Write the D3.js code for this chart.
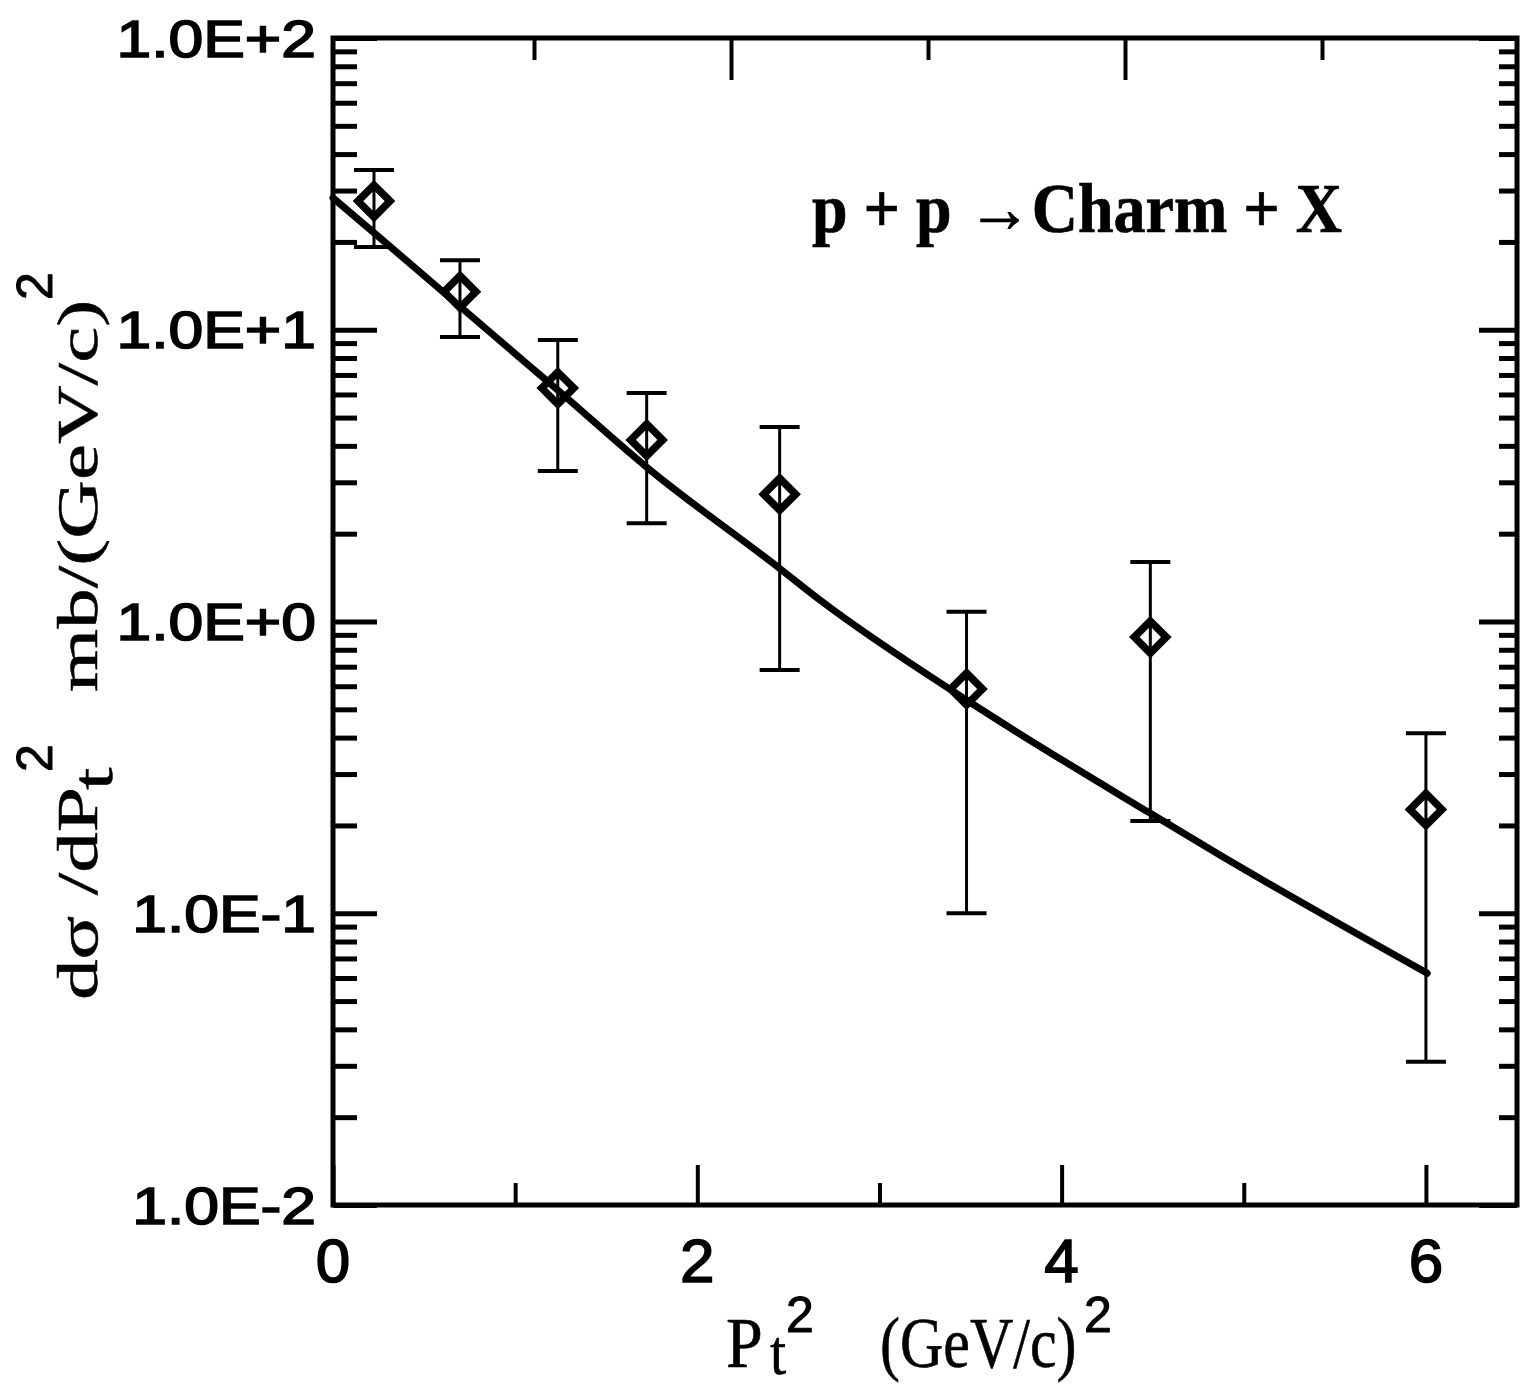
<!DOCTYPE html>
<html>
<head>
<meta charset="utf-8">
<script src="https://cdn.jsdelivr.net/npm/d3@7"></script>
<style>
  body { margin: 0; background: #fff; }
  svg { display: block; }
</style>
</head>
<body>
<script>
// measured points, P_t^2 in (GeV/c)^2, dsigma/dPt^2 in mb/(GeV/c)^2
const pt2 = [0.225, 0.697, 1.234, 1.722, 2.452, 3.478, 4.487, 6.0];
const sigma = [27.6, 13.5, 6.31, 4.19, 2.73, 0.587, 0.884, 0.227];
const errHigh = [35.3, 17.3, 9.22, 6.07, 4.64, 1.08, 1.60, 0.414];
const errLow = [19.2, 9.44, 3.28, 2.17, 0.682, 0.10, 0.207, 0.031];

// model curve
const fitPt2 = [0, 0.225, 0.719, 1.086, 1.234, 1.722, 2.452, 2.677, 3.478, 4.487, 4.871, 6.007];
const fitSigma = [28.3, 21.5, 11.7, 7.45, 6.21, 3.38, 1.52, 1.18, 0.538, 0.220, 0.158, 0.0623];

const yMajor = [0.01, 0.1, 1, 10, 100];
const yTickLabels = ["1.0E-2", "1.0E-1", "1.0E+0", "1.0E+1", "1.0E+2"];
const xMajor = [0, 2, 4, 6];
const xTickLabels = ["0", "2", "4", "6"];
const xMinor = [1, 3, 5];

const W = 1523, H = 1392;
const pLeft = 333, pRight = 1517, pTop = 38, pBottom = 1205;

const sans = "'Liberation Sans', Arial, sans-serif";
const serif = "'Liberation Serif', 'Times New Roman', serif";

const svg = d3.select("body").append("svg")
    .attr("width", W)
    .attr("height", H);

const x = d3.scaleLinear().domain([0, 6.5]).range([pLeft, pRight]);
// the top axis of the scan is drawn on its own 0..6 scale
const xTop = d3.scaleLinear().domain([0, 6]).range([337, 1519]);
const y = d3.scaleLog().domain([0.01, 100]).range([pBottom, pTop]);

// minor log ticks 2..9 in every decade
const yMinor = [];
yMajor.slice(0, -1).forEach(d => {
    for (let k = 2; k <= 9; k++) yMinor.push(d * k);
});

function styleAxis(g, w) {
    g.select(".domain").remove();
    g.selectAll(".tick line").attr("stroke", "#000").attr("stroke-width", w);
    g.selectAll(".tick text").remove();
}

// ticks
svg.append("g").attr("transform", `translate(${pLeft},0)`)
    .call(d3.axisLeft(y).tickValues(yMajor).tickSize(-44))
    .call(g => styleAxis(g, 5));
svg.append("g").attr("transform", `translate(${pLeft},0)`)
    .call(d3.axisLeft(y).tickValues(yMinor).tickSize(-24))
    .call(g => styleAxis(g, 5));
svg.append("g").attr("transform", `translate(${pRight},0)`)
    .call(d3.axisRight(y).tickValues(yMajor).tickSize(-38))
    .call(g => styleAxis(g, 5));
svg.append("g").attr("transform", `translate(${pRight},0)`)
    .call(d3.axisRight(y).tickValues(yMinor).tickSize(-18))
    .call(g => styleAxis(g, 5));

svg.append("g").attr("transform", `translate(0,${pBottom})`)
    .call(d3.axisBottom(x).tickValues(xMajor).tickSize(-40))
    .call(g => styleAxis(g, 4));
svg.append("g").attr("transform", `translate(0,${pBottom})`)
    .call(d3.axisBottom(x).tickValues(xMinor).tickSize(-22))
    .call(g => styleAxis(g, 4));
svg.append("g").attr("transform", `translate(0,${pTop})`)
    .call(d3.axisTop(xTop).tickValues([2, 4]).tickSize(-42))
    .call(g => styleAxis(g, 4));
svg.append("g").attr("transform", `translate(0,${pTop})`)
    .call(d3.axisTop(xTop).tickValues(xMinor).tickSize(-22))
    .call(g => styleAxis(g, 4));

// frame
svg.append("rect")
    .attr("x", pLeft).attr("y", pTop)
    .attr("width", pRight - pLeft).attr("height", pBottom - pTop)
    .attr("fill", "none").attr("stroke", "#000").attr("stroke-width", 5);

// tick labels
svg.append("g").selectAll("text")
    .data(yMajor)
    .join("text")
    .attr("transform", d => `translate(316,${y(d)}) scale(1.2,1)`)
    .attr("dy", "0.36em")
    .attr("text-anchor", "end")
    .attr("font-family", sans)
    .attr("font-size", 52)
    .attr("stroke", "#000").attr("stroke-width", 1.6)
    .text((d, i) => yTickLabels[i]);

svg.append("g").selectAll("text")
    .data(xMajor)
    .join("text")
    .attr("x", d => x(d))
    .attr("y", 1282)
    .attr("text-anchor", "middle")
    .attr("font-family", sans)
    .attr("font-size", 62)
    .attr("stroke", "#000").attr("stroke-width", 1.6)
    .text((d, i) => xTickLabels[i]);

// model curve
const line = d3.line()
    .x(d => x(d[0]))
    .y(d => y(d[1]))
    .curve(d3.curveMonotoneX);

svg.append("path")
    .datum(fitPt2.map((d, i) => [d, fitSigma[i]]))
    .attr("d", line)
    .attr("fill", "none")
    .attr("stroke", "#000")
    .attr("stroke-width", 7)
    .attr("stroke-linecap", "round");

// error bars
const pts = pt2.map((d, i) => ({ x: d, y: sigma[i], hi: errHigh[i], lo: errLow[i] }));
const eb = svg.append("g").attr("stroke", "#000");
eb.selectAll(".bar").data(pts).join("line")
    .attr("class", "bar")
    .attr("x1", d => x(d.x)).attr("x2", d => x(d.x))
    .attr("y1", d => y(d.lo)).attr("y2", d => y(d.hi))
    .attr("stroke-width", 3);
eb.selectAll(".capHi").data(pts).join("line")
    .attr("class", "capHi")
    .attr("x1", d => x(d.x) - 20).attr("x2", d => x(d.x) + 20)
    .attr("y1", d => y(d.hi)).attr("y2", d => y(d.hi))
    .attr("stroke-width", 4);
eb.selectAll(".capLo").data(pts).join("line")
    .attr("class", "capLo")
    .attr("x1", d => x(d.x) - 20).attr("x2", d => x(d.x) + 20)
    .attr("y1", d => y(d.lo)).attr("y2", d => y(d.lo))
    .attr("stroke-width", 4);

// open diamonds
const r = 16;
svg.append("g").selectAll("path")
    .data(pts)
    .join("path")
    .attr("d", d => {
        const cx = x(d.x), cy = y(d.y);
        return `M${cx},${cy - r}L${cx + r},${cy}L${cx},${cy + r}L${cx - r},${cy}Z`;
    })
    .attr("fill", "none")
    .attr("stroke", "#000")
    .attr("stroke-width", 7.5)
    .attr("stroke-linejoin", "miter");

// reaction label
svg.append("text")
    .attr("transform", "translate(812,232) scale(1,1.2)")
    .attr("font-family", serif)
    .attr("font-weight", "bold")
    .attr("font-size", 58)
    .attr("textLength", 530)
    .attr("lengthAdjust", "spacingAndGlyphs")
    .attr("stroke", "#000").attr("stroke-width", 0.6)
    .text("p + p  \u2192Charm + X");

// axis titles: the scan is stretched, so the serif parts get a scale
function serifPiece(parent, tx, ty, sx, sy, rot, s, size) {
    return parent.append("text")
        .attr("transform", `translate(${tx},${ty})${rot ? " rotate(-90)" : ""} scale(${sx},${sy})`)
        .attr("font-family", serif)
        .attr("font-size", size)
        .attr("stroke", "#000").attr("stroke-width", 0.5)
        .text(s);
}
function supTwo(parent, tx, ty, rot) {
    return parent.append("text")
        .attr("transform", `translate(${tx},${ty})${rot ? " rotate(-90)" : ""}`)
        .attr("font-family", sans)
        .attr("font-size", 50)
        .attr("stroke", "#000").attr("stroke-width", 1)
        .text("2");
}

const xt = svg.append("g");
serifPiece(xt, 726, 1367, 1.1, 1.2, false, "P", 60);
serifPiece(xt, 770, 1374, 1, 1.1, false, "t", 58);
supTwo(xt, 786, 1332, false);
serifPiece(xt, 880, 1367, 1, 1.2, false, "(GeV/c)", 60);
supTwo(xt, 1084, 1332, false);

const yt = svg.append("g");
serifPiece(yt, 97, 1000, 1.4, 1, true, "d\u03c3 /dP", 58);
serifPiece(yt, 112, 790, 1.4, 1, true, "t", 58);
supTwo(yt, 52, 772, true);
serifPiece(yt, 97, 692, 1.4, 1, true, "mb/(GeV/c)", 58);
supTwo(yt, 52, 300, true);
</script>
</body>
</html>
